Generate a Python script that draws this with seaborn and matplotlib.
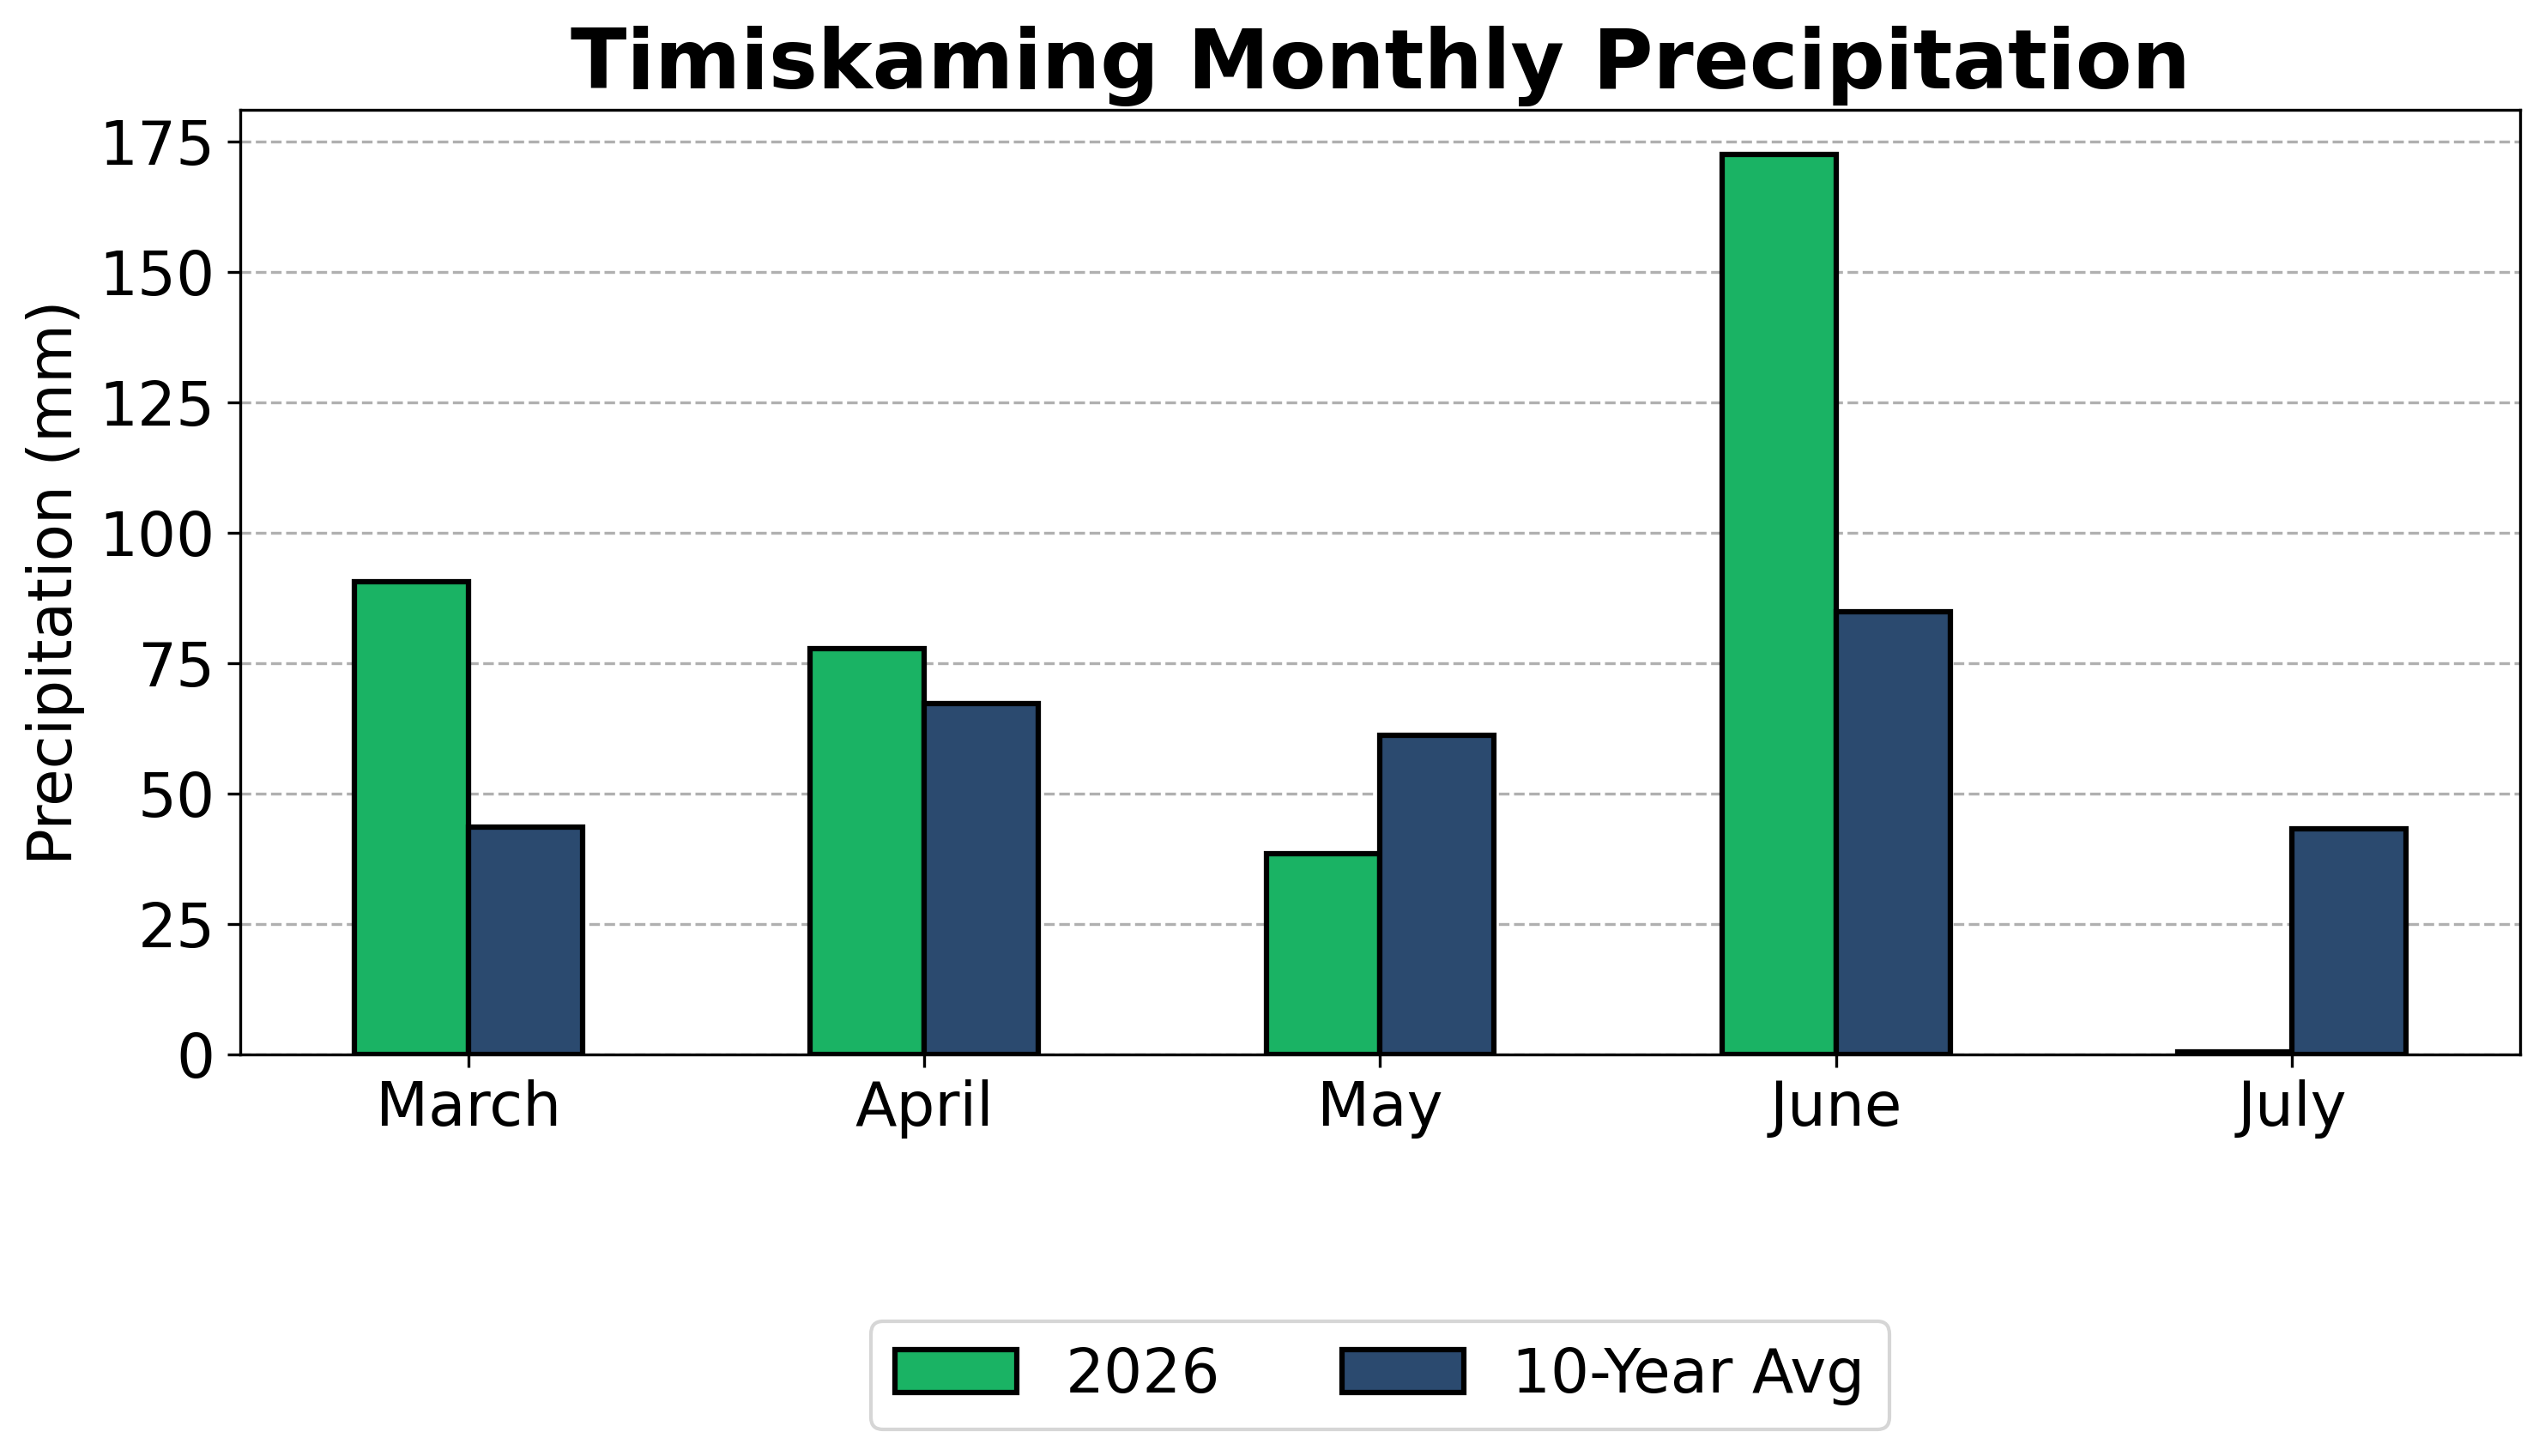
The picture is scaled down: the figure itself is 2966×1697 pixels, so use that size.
import pandas as pd
import seaborn as sns
import matplotlib.pyplot as plt
from matplotlib.ticker import MultipleLocator

# dati (mm)
months = ["March", "April", "May", "June", "July"]
precip_2026 = [90.6, 77.8, 38.4, 172.4, 0.5]
precip_avg10 = [43.6, 67.2, 61.2, 84.9, 43.2]
series_names = ["2026", "10-Year Avg"]
series_colors = ["#1AB364", "#2B4A6F"]

df = pd.DataFrame({
    "Month": months * 2,
    "Series": [series_names[0]] * len(months) + [series_names[1]] * len(months),
    "Precipitation": precip_2026 + precip_avg10,
})

fig, ax = plt.subplots(figsize=(2966 / 300, 1697 / 300), dpi=300)
fig.subplots_adjust(left=0.0944, right=0.9902, top=0.9246, bottom=0.2758)

sns.barplot(data=df, x="Month", y="Precipitation", hue="Series",
            order=months, hue_order=series_names, palette=series_colors,
            width=0.5, gap=0, edgecolor="black", linewidth=1.5,
            saturation=1, errorbar=None, ax=ax)

ax.yaxis.set_major_locator(MultipleLocator(25))
ax.set_axisbelow(True)
ax.grid(axis="y", linestyle="--", color="#b0b0b0")
ax.set_title("Timiskaming Monthly Precipitation", fontsize=23, fontweight="bold")
ax.set_ylabel("Precipitation (mm)", fontsize=17)
ax.set_xlabel("")
ax.tick_params(axis="both", labelsize=17)

# legenda sotto il grafico
ax.get_legend().remove()
handles = [c.patches[0] for c in ax.containers]
ax.legend(handles, series_names, loc="center", bbox_to_anchor=(0.5, -0.34),
          ncol=2, fontsize=17)

plt.savefig("out.png", dpi=300)
